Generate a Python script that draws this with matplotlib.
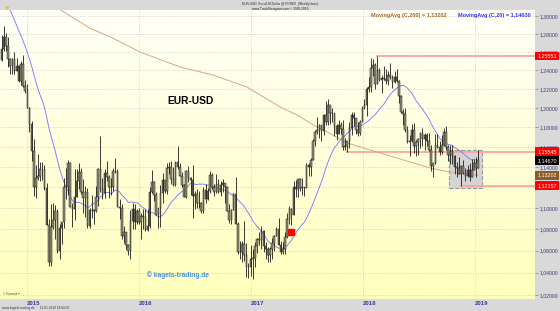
import matplotlib
matplotlib.use('Agg')
import matplotlib.pyplot as plt
import matplotlib.dates as mdates
import matplotlib.transforms as mtransforms
from matplotlib.ticker import FixedLocator, FuncFormatter
import numpy as np
import pandas as pd

plt.rcParams['font.family'] = ['Liberation Sans', 'DejaVu Sans']

# ---------------- data (weekly EUR-USD bars, Friday closes) ----------------
first_week = '2014-10-10'
first_open = 1.2515

# closes before the first bar, only for the 20 week average
warmup_closes = [1.3635, 1.3645, 1.3540, 1.3600, 1.3645, 1.3595, 1.3605, 1.3525, 1.3430, 1.3430,
                 1.3410, 1.3400, 1.3240, 1.3130, 1.2950, 1.2960, 1.2830, 1.2685, 1.2515]

highs = [
    # 2014
    1.2790, 1.2887, 1.2810, 1.2770, 1.2530, 1.2530, 1.2600, 1.2530, 1.2460, 1.2500, 1.2570, 1.2300,
    # 2015
    1.2250, 1.2010, 1.1870, 1.1680, 1.1420, 1.1530, 1.1450, 1.1450, 1.1420, 1.1240, 1.0900, 1.1040, 1.1050,
    1.1030, 1.0990, 1.0850, 1.0870, 1.1290, 1.1390, 1.1470, 1.1450, 1.1050, 1.1385, 1.1385, 1.1440, 1.1390,
    1.1280, 1.1215, 1.1190, 1.1000, 1.1130, 1.0990, 1.1215, 1.1390, 1.1715, 1.1290, 1.1380, 1.1460, 1.1320,
    1.1290, 1.1390, 1.1495, 1.1380, 1.1090, 1.1040, 1.0830, 1.0775, 1.0660, 1.0985, 1.1045, 1.1040, 1.0990,
    # 2016
    1.1000, 1.0950, 1.0990, 1.0990, 1.0990, 1.1200, 1.1375, 1.1260, 1.1160, 1.1000, 1.1220, 1.1340, 1.1275,
    1.1440, 1.1455, 1.1465, 1.1400, 1.1450, 1.1615, 1.1440, 1.1355, 1.1235, 1.1375, 1.1415, 1.1300, 1.1425,
    1.1170, 1.1185, 1.1165, 1.1060, 1.1200, 1.1235, 1.1190, 1.1365, 1.1340, 1.1230, 1.1330, 1.1285, 1.1260,
    1.1280, 1.1240, 1.1210, 1.1040, 1.0990, 1.1145, 1.1300, 1.0865, 1.0690, 1.0690, 1.0875, 1.0670, 1.0485, 1.0655,
    # 2017
    1.0620, 1.0685, 1.0720, 1.0775, 1.0830, 1.0790, 1.0680, 1.0630, 1.0630, 1.0715, 1.0745, 1.0820, 1.0905,
    1.0690, 1.0680, 1.0775, 1.0950, 1.1020, 1.1000, 1.1265, 1.1270, 1.1285, 1.1295, 1.1295, 1.1200, 1.1445,
    1.1440, 1.1490, 1.1680, 1.1775, 1.1910, 1.1830, 1.1800, 1.1940, 1.2070, 1.2090, 1.2035, 1.2000, 1.1950,
    1.1830, 1.1880, 1.1860, 1.1880, 1.1690, 1.1665, 1.1860, 1.1960, 1.1960, 1.1880, 1.1860, 1.1880, 1.2020,
    # 2018
    1.2090, 1.2220, 1.2325, 1.2535, 1.2525, 1.2475, 1.2555, 1.2420, 1.2355, 1.2445, 1.2410, 1.2390, 1.2475,
    1.2345, 1.2395, 1.2415, 1.2295, 1.2135, 1.1995, 1.2000, 1.1815, 1.1720, 1.1840, 1.1850, 1.1675, 1.1690,
    1.1745, 1.1790, 1.1745, 1.1745, 1.1745, 1.1620, 1.1445, 1.1735, 1.1735, 1.1660, 1.1720, 1.1790, 1.1815,
    1.1625, 1.1620, 1.1620, 1.1520, 1.1455, 1.1500, 1.1415, 1.1470, 1.1390, 1.1420, 1.1440, 1.1485, 1.1480,
    # 2019
    1.1500, 1.1570,
]

lows = [
    # 2014
    1.2500, 1.2613, 1.2613, 1.2440, 1.2357, 1.2360, 1.2360, 1.2390, 1.2280, 1.2245, 1.2220, 1.2160,
    # 2015
    1.2000, 1.1755, 1.1460, 1.1115, 1.1100, 1.1270, 1.1260, 1.1270, 1.1175, 1.0840, 1.0460, 1.0460, 1.0800,
    1.0710, 1.0580, 1.0520, 1.0660, 1.0810, 1.1090, 1.1130, 1.1010, 1.0820, 1.0890, 1.1110, 1.1180, 1.1140,
    1.0955, 1.0915, 1.0810, 1.0810, 1.0910, 1.0850, 1.0960, 1.1020, 1.1160, 1.1090, 1.1100, 1.1260, 1.1100,
    1.1130, 1.1170, 1.1340, 1.1010, 1.0900, 1.0710, 1.0675, 1.0620, 1.0560, 1.0525, 1.0800, 1.0800, 1.0850,
    # 2016
    1.0850, 1.0710, 1.0805, 1.0780, 1.0780, 1.0810, 1.1150, 1.1065, 1.0935, 1.0810, 1.0825, 1.1050, 1.1145,
    1.1140, 1.1330, 1.1235, 1.1215, 1.1215, 1.1385, 1.1310, 1.1200, 1.1105, 1.1100, 1.1250, 1.1130, 1.0910,
    1.0990, 1.1000, 1.1000, 1.0950, 1.0950, 1.1045, 1.1080, 1.1150, 1.1180, 1.1120, 1.1150, 1.1150, 1.1120,
    1.1155, 1.1045, 1.0970, 1.0860, 1.0850, 1.0980, 1.0850, 1.0570, 1.0520, 1.0500, 1.0505, 1.0365, 1.0350, 1.0370,
    # 2017
    1.0340, 1.0455, 1.0580, 1.0655, 1.0620, 1.0590, 1.0520, 1.0495, 1.0495, 1.0525, 1.0600, 1.0735, 1.0650,
    1.0570, 1.0570, 1.0570, 1.0720, 1.0850, 1.0840, 1.0930, 1.1110, 1.1110, 1.1170, 1.1130, 1.1120, 1.1190,
    1.1310, 1.1310, 1.1470, 1.1615, 1.1730, 1.1690, 1.1660, 1.1725, 1.1820, 1.1825, 1.1840, 1.1860, 1.1715,
    1.1670, 1.1730, 1.1730, 1.1575, 1.1575, 1.1555, 1.1590, 1.1720, 1.1810, 1.1730, 1.1715, 1.1720, 1.1860,
    # 2018
    1.1995, 1.1915, 1.2165, 1.2165, 1.2335, 1.2205, 1.2255, 1.2285, 1.2155, 1.2300, 1.2255, 1.2240, 1.2305,
    1.2215, 1.2260, 1.2280, 1.2055, 1.1950, 1.1820, 1.1750, 1.1645, 1.1510, 1.1650, 1.1540, 1.1510, 1.1525,
    1.1590, 1.1615, 1.1575, 1.1615, 1.1565, 1.1365, 1.1300, 1.1430, 1.1590, 1.1525, 1.1530, 1.1610, 1.1570,
    1.1460, 1.1430, 1.1430, 1.1335, 1.1300, 1.1330, 1.1216, 1.1335, 1.1265, 1.1305, 1.1265, 1.1300, 1.1370,
    # 2019
    1.1305, 1.1390,
]

closes = [
    # 2014
    1.2630, 1.2760, 1.2670, 1.2525, 1.2450, 1.2525, 1.2390, 1.2450, 1.2290, 1.2465, 1.2230, 1.2180,
    # 2015
    1.2000, 1.1840, 1.1565, 1.1205, 1.1290, 1.1315, 1.1385, 1.1385, 1.1195, 1.0840, 1.0495, 1.0820, 1.0890,
    1.0970, 1.0600, 1.0810, 1.0870, 1.1200, 1.1200, 1.1445, 1.1010, 1.0990, 1.1110, 1.1260, 1.1350, 1.1160,
    1.1100, 1.1160, 1.0830, 1.0980, 1.0985, 1.0970, 1.1105, 1.1385, 1.1180, 1.1150, 1.1340, 1.1300, 1.1200,
    1.1200, 1.1360, 1.1350, 1.1015, 1.1005, 1.0740, 1.0770, 1.0650, 1.0595, 1.0880, 1.0990, 1.0865, 1.0970,
    # 2016
    1.0865, 1.0925, 1.0915, 1.0795, 1.0830, 1.1160, 1.1255, 1.1130, 1.0935, 1.1000, 1.1150, 1.1270, 1.1165,
    1.1390, 1.1400, 1.1285, 1.1225, 1.1450, 1.1400, 1.1310, 1.1225, 1.1110, 1.1365, 1.1290, 1.1275, 1.1115,
    1.1135, 1.1050, 1.1045, 1.0975, 1.1175, 1.1085, 1.1165, 1.1325, 1.1200, 1.1155, 1.1235, 1.1155, 1.1225,
    1.1240, 1.1200, 1.0970, 1.0885, 1.0980, 1.1140, 1.0850, 1.0585, 1.0590, 1.0665, 1.0560, 1.0450, 1.0455, 1.0520,
    # 2017
    1.0530, 1.0645, 1.0705, 1.0695, 1.0785, 1.0640, 1.0615, 1.0560, 1.0620, 1.0675, 1.0740, 1.0800, 1.0650,
    1.0590, 1.0615, 1.0725, 1.0895, 1.0995, 1.0935, 1.1205, 1.1180, 1.1285, 1.1195, 1.1200, 1.1195, 1.1425,
    1.1400, 1.1470, 1.1665, 1.1750, 1.1770, 1.1820, 1.1760, 1.1925, 1.1860, 1.2035, 1.1945, 1.1950, 1.1815,
    1.1730, 1.1820, 1.1785, 1.1605, 1.1610, 1.1665, 1.1795, 1.1930, 1.1895, 1.1770, 1.1745, 1.1860, 1.2005,
    # 2018
    1.2030, 1.2200, 1.2225, 1.2425, 1.2460, 1.2250, 1.2405, 1.2295, 1.2315, 1.2305, 1.2290, 1.2350, 1.2325,
    1.2280, 1.2330, 1.2290, 1.2130, 1.1960, 1.1940, 1.1770, 1.1650, 1.1660, 1.1770, 1.1610, 1.1655, 1.1685,
    1.1745, 1.1685, 1.1720, 1.1660, 1.1570, 1.1410, 1.1440, 1.1620, 1.1600, 1.1550, 1.1625, 1.1750, 1.1605,
    1.1525, 1.1560, 1.1510, 1.1400, 1.1390, 1.1335, 1.1415, 1.1340, 1.1315, 1.1375, 1.1305, 1.1370, 1.1445,
    # 2019
    1.1395, 1.1467,
]

# 200 week average
ma200_dates = ['2015-02-12', '2015-04-21', '2015-07-24', '2015-10-07', '2016-01-04', '2016-05-14',
               '2016-08-29', '2016-12-18', '2017-04-05', '2017-05-31', '2017-07-22', '2017-09-06',
               '2017-11-10', '2018-01-01', '2018-04-21', '2018-08-07', '2018-10-11', '2018-12-15',
               '2019-01-11']
ma200_vals = [1.3148, 1.3068, 1.2865, 1.2754, 1.2600, 1.2436, 1.2350, 1.2222, 1.2011, 1.1928, 1.1825,
              1.1753, 1.1641, 1.1591, 1.1490, 1.1391, 1.1350, 1.1325, 1.13202]

# support / resistance lines and price tags
level_vals = [1.25551, 1.15545, 1.12157]
level_from = ['2018-02-16', '2017-11-10', '2018-11-16']
last_close = 1.14670
ma200_last = 1.13202
ma20_last = 1.14630

box_dates = ['2018-10-07', '2019-01-22']
box_vals = [1.1194, 1.1570]
signal_date = '2017-05-10'
signal_val = 1.0774

y_ticks = [1.02, 1.04, 1.06, 1.08, 1.10, 1.12, 1.14, 1.16, 1.18, 1.20, 1.22, 1.24, 1.26, 1.28, 1.30]
hidden_ticks = [1.12]   # covered by the price tags in the original
years = ['2015', '2016', '2017', '2018', '2019']

# ---------------- figure ----------------
bg_gray = '#d9d9d9'
fig = plt.figure(figsize=(5.6, 3.11), dpi=100, facecolor=bg_gray)
ax = fig.add_axes([0.0, 1 - 299 / 311, 535 / 560, 289 / 311])
ax.set_yscale('log')

dates = pd.date_range(first_week, periods=len(closes), freq='W-FRI')
opens = [first_open] + closes[:-1]   # fx weekly bars open at previous close

# yellow background
grad = np.linspace(0, 1, 256).reshape(-1, 1)
cmap = matplotlib.colors.LinearSegmentedColormap.from_list('bgy', ['#fffff8', '#ffffbc'])
ax.imshow(grad, aspect='auto', cmap=cmap, extent=[0, 1, 0, 1], transform=ax.transAxes, zorder=0)

# grid
for v in y_ticks:
    ax.axhline(v, color='#c4c4c4', lw=0.6, ls=(0, (1, 2)), zorder=1)
for yr in years:
    ax.axvline(pd.Timestamp(yr + '-01-01'), color='#c4c4c4', lw=0.6, ls=(0, (1, 2)), zorder=1)

# gray box of the last weeks
bx0 = mdates.date2num(pd.Timestamp(box_dates[0]))
bx1 = mdates.date2num(pd.Timestamp(box_dates[1]))
ax.add_patch(plt.Rectangle((bx0, box_vals[0]), bx1 - bx0, box_vals[1] - box_vals[0],
                           facecolor='#d4d4d4', edgecolor='#9a9a9a', ls='--', lw=0.8, zorder=2))

# levels
xmax = pd.Timestamp('2019-07-15')
for v, d in zip(level_vals, level_from):
    ax.plot([pd.Timestamp(d), xmax], [v, v], color='#ff9c9c', lw=1.2, zorder=2)

# moving averages
ma20 = pd.Series(warmup_closes + closes).rolling(20).mean().iloc[len(warmup_closes):].values
ax.plot(pd.to_datetime(ma200_dates), ma200_vals, color='#d4a886', lw=0.7, zorder=3)
ax.plot(dates, ma20, color='#7c7cff', lw=0.65, zorder=3)

# candles
lo_b = np.minimum(opens, closes)
hi_b = np.maximum(opens, closes)
ax.vlines(dates, lows, highs, color='#1a1a1a', lw=0.6, zorder=4)
ax.bar(dates, hi_b - lo_b, bottom=lo_b, width=5.0, color='#929278', edgecolor='#1a1a1a', lw=0.35, zorder=5)

ax.plot([pd.Timestamp(signal_date)], [signal_val], 's', color='#ff0000', ms=4.5, zorder=6)

ax.set_xlim(pd.Timestamp('2014-10-05'), xmax)
ax.set_ylim(1.01645, 1.3068)

# axes
for s in ax.spines.values():
    s.set_visible(False)
ax.yaxis.tick_right()
ax.yaxis.set_major_locator(FixedLocator(y_ticks))
ax.yaxis.set_minor_locator(FixedLocator([]))


def fmt(v, p):
    if any(abs(v - h) < 1e-6 for h in hidden_ticks):
        return ''
    return ('%.5f' % v).replace('.', ',')


ax.yaxis.set_major_formatter(FuncFormatter(fmt))
ax.tick_params(axis='y', which='major', length=2, width=0.5, color='#808080', pad=1.5,
               labelsize=3.7, labelcolor='#3c3c78')
ax.set_xticks([pd.Timestamp(y + '-01-01') for y in years])
ax.set_xticklabels(years)
ax.tick_params(axis='x', length=0, pad=1.5, labelsize=4.3, labelcolor='#3a3aa0')
for lab in ax.get_xticklabels():
    lab.set_ha('left')
    lab.set_fontweight('bold')

# price tags on the right axis
tr = mtransforms.blended_transform_factory(ax.transAxes, ax.transData)
tags = [(level_vals[0], '#ff0000'), (level_vals[1], '#ff0000'), (last_close, '#000000'),
        (ma200_last, '#8b5a2b'), (level_vals[2], '#ff0000')]
for v, c in tags:
    ax.text(1.004, v, ('%.5f' % v).replace('.', ','), transform=tr, fontsize=3.9, color='white',
            va='center', ha='left', clip_on=False, zorder=10,
            bbox=dict(boxstyle='square,pad=0.35', facecolor=c, edgecolor='none'))

# texts
ax.text(0.357, 0.685, 'EUR-USD', transform=ax.transAxes, fontsize=7.4, fontweight='bold',
        ha='center', va='center', zorder=7)
ax.text(0.274, 0.083, '© kagels-trading.de', transform=ax.transAxes, fontsize=4.8, fontweight='bold',
        color='#4a90e0', ha='left', va='center', zorder=7)
ax.text(0.006, 0.012, '© Genesis™', transform=ax.transAxes, fontsize=2.2, color='#333333',
        ha='left', va='bottom', zorder=7)
ax.text(0.8355, 0.988, 'MovingAvg (C,200) = 1,13202', transform=ax.transAxes, fontsize=4.0,
        fontweight='bold', color='#a8692c', ha='right', va='top', zorder=8)
ax.text(0.9925, 0.988, 'MovingAvg (C,20) = 1,14630', transform=ax.transAxes, fontsize=4.0,
        fontweight='bold', color='#3333ff', ha='right', va='top', zorder=8)

fig.text(0.5, 0.994, 'EUR-USD  Euro/US Dollar @ FOREX  (Weekly bars)', fontsize=2.3, ha='center',
         va='top', color='#222222')
fig.text(0.5, 0.976, 'www.TradeNavigator.com © 1999-2019', fontsize=2.3, ha='center', va='top',
         color='#222222')
fig.text(0.004, 0.004, 'www.kagels-trading.de      12.01.2019 18:04:00', fontsize=2.3, ha='left',
         va='bottom', color='#333333')
fig.text(0.012, 0.985, '★', fontsize=5, color='#e8c020', ha='center', va='top')

fig.savefig('out.png', dpi=100, facecolor=bg_gray)
